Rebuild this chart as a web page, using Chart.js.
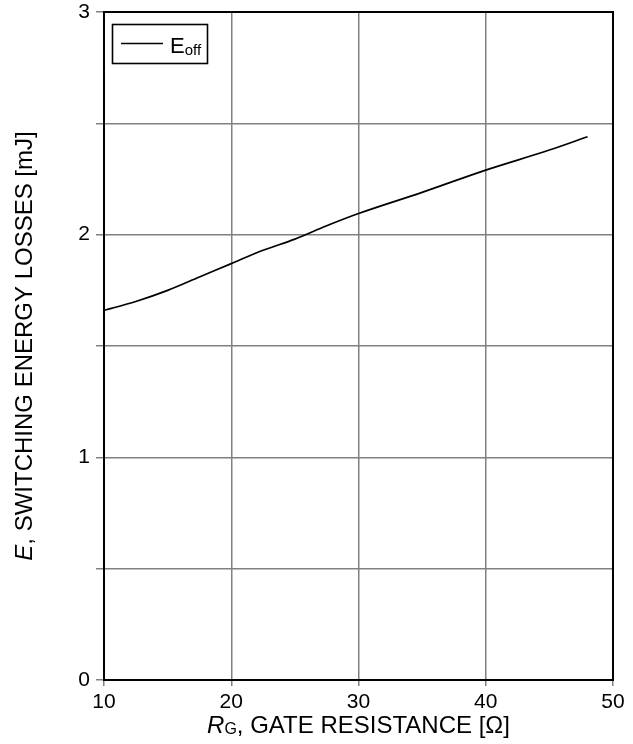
<!DOCTYPE html>
<html><head><meta charset="utf-8">
<script src="https://cdn.jsdelivr.net/npm/chart.js@4/dist/chart.umd.min.js"></script>
<style>html,body{margin:0;padding:0;background:#fff}#wrap{width:633px;height:744px}</style>
</head><body><div id="wrap"><canvas id="c" width="633" height="744"></canvas></div>
<script>
const rg = [10, 12.5, 15, 17.5, 20, 22.5, 25, 27.5, 30, 35, 40, 45, 48];
const eoff = [1.66, 1.70, 1.75, 1.81, 1.87, 1.93, 1.98, 2.04, 2.095, 2.19, 2.29, 2.38, 2.44];
const xTicks = [10, 20, 30, 40, 50];
const yTicks = [0, 1, 2, 3];
const seriesName = ['E', 'off'];
const xTitle = ['R', 'G', ', GATE RESISTANCE [Ω]'];
const yTitle = ['E', ', SWITCHING ENERGY LOSSES [mJ]'];
const FONT = '"Liberation Sans", Arial, sans-serif';

const deco = {
  id: 'deco',
  afterDraw(chart) {
    const {ctx, chartArea: a} = chart;
    ctx.save();
    ctx.strokeStyle = '#000'; ctx.lineWidth = 2;
    ctx.strokeRect(a.left, a.top, a.right - a.left, a.bottom - a.top);
    // legend
    const lx = 112.5, ly = 24.5, lw = 95, lh = 39;
    ctx.fillStyle = '#fff'; ctx.fillRect(lx, ly, lw, lh);
    ctx.lineWidth = 1.6; ctx.strokeRect(lx, ly, lw, lh);
    ctx.lineWidth = 1.3; ctx.beginPath(); ctx.moveTo(121, 43.5); ctx.lineTo(163, 43.5); ctx.stroke();
    ctx.fillStyle = '#000'; ctx.textBaseline = 'alphabetic'; ctx.textAlign = 'left';
    ctx.font = '22px ' + FONT; ctx.fillText(seriesName[0], 170, 53);
    let w = ctx.measureText(seriesName[0]).width;
    ctx.font = '15px ' + FONT; ctx.fillText(seriesName[1], 170 + w, 55);
    // x title
    const big = 24, sub = 16;
    ctx.font = 'italic ' + big + 'px ' + FONT;
    const w1 = ctx.measureText(xTitle[0]).width;
    ctx.font = sub + 'px ' + FONT; const w2 = ctx.measureText(xTitle[1]).width;
    ctx.font = big + 'px ' + FONT; const w3 = ctx.measureText(xTitle[2]).width;
    let x0 = (a.left + a.right) / 2 - (w1 + w2 + w3) / 2;
    const ty = 733;
    ctx.font = 'italic ' + big + 'px ' + FONT; ctx.fillText(xTitle[0], x0, ty);
    ctx.font = sub + 'px ' + FONT; ctx.fillText(xTitle[1], x0 + w1, ty + 1);
    ctx.font = big + 'px ' + FONT; ctx.fillText(xTitle[2], x0 + w1 + w2, ty);
    // y title
    const yb = 24;
    ctx.translate(32, (a.top + a.bottom) / 2);
    ctx.rotate(-Math.PI / 2);
    ctx.font = 'italic ' + yb + 'px ' + FONT; const v1 = ctx.measureText(yTitle[0]).width;
    ctx.font = yb + 'px ' + FONT; const v2 = ctx.measureText(yTitle[1]).width;
    const s = -(v1 + v2) / 2;
    ctx.font = 'italic ' + yb + 'px ' + FONT; ctx.fillText(yTitle[0], s, 0);
    ctx.font = yb + 'px ' + FONT; ctx.fillText(yTitle[1], s + v1, 0);
    ctx.restore();
  }
};

new Chart(document.getElementById('c'), {
  type: 'line',
  data: { datasets: [{
    data: rg.map((x, i) => ({x, y: eoff[i]})),
    borderColor: '#000', borderWidth: 1.7, pointRadius: 0,
    cubicInterpolationMode: 'monotone', fill: false
  }]},
  options: {
    responsive: false, animation: false, devicePixelRatio: 1,
    layout: { padding: { left: 0, right: 20, top: 12, bottom: 0 } },
    plugins: { legend: { display: false }, tooltip: { enabled: false } },
    scales: {
      x: {
        type: 'linear', min: xTicks[0], max: xTicks[xTicks.length - 1],
        afterFit(s) { s.height = 64; s.paddingLeft = 0; s.paddingRight = 0; },
        afterBuildTicks(s) { s.ticks = xTicks.map(v => ({value: v})); },
        grid: { color: '#808080', lineWidth: 1.5, tickLength: 6 },
        border: { display: false },
        ticks: { color: '#000', font: { family: FONT, size: 21 }, padding: 4, maxRotation: 0 }
      },
      y: {
        type: 'linear', min: yTicks[0], max: yTicks[yTicks.length - 1],
        afterFit(s) { s.width = 104; s.paddingTop = 0; s.paddingBottom = 0; },
        ticks: { stepSize: 0.5, color: '#000', font: { family: FONT, size: 21 }, padding: 6,
          callback: v => (Number.isInteger(v) ? String(v) : '') },
        grid: { color: '#808080', lineWidth: 1.5, tickLength: 8 },
        border: { display: false }
      }
    }
  },
  plugins: [deco]
});
</script></body></html>
